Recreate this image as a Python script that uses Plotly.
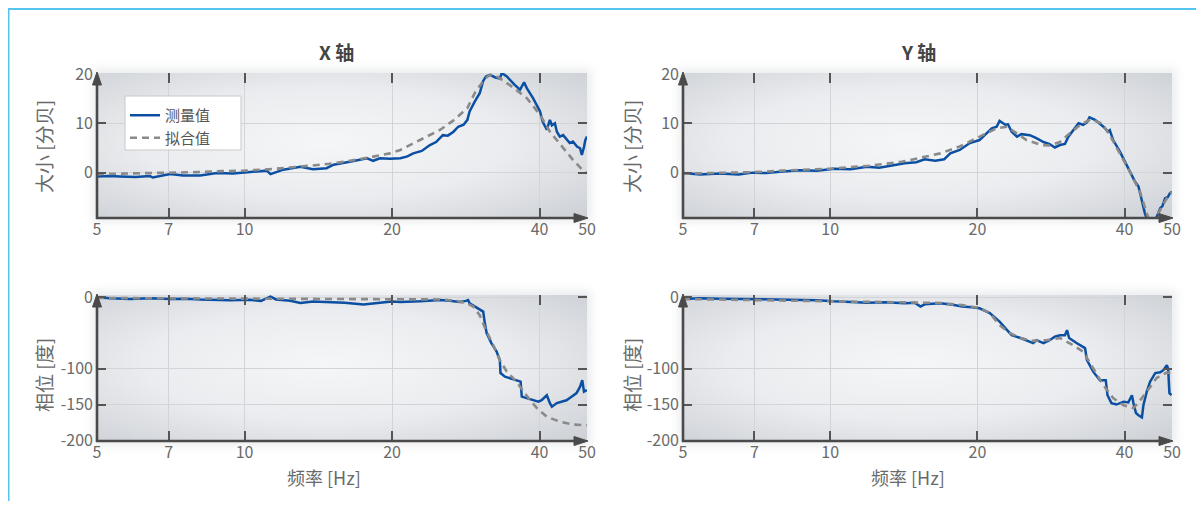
import base64
import math
import plotly.graph_objects as go

# ---------------- data ----------------
FREQ_TICKS = [5, 7, 10, 20, 40, 50]
FREQ_TICK_TEXT = ["5", "7", "10", "20", "40", "50"]
MAG_TICKS = [0, 10, 20]
MAG_TICK_TEXT = ["0", "10", "20"]
PHASE_TICKS = [-200, -150, -100, 0]
PHASE_TICK_TEXT = ["-200", "-150", "-100", "0"]

# X axis - magnitude, measured
x_mag_meas_f = [5.0, 5.3, 5.57, 6.0, 6.41, 6.5, 7.05, 7.49, 8.12, 8.79, 9.47, 10.26, 11.1, 11.3,
                12.0, 13.0, 13.8, 14.7, 15.2, 16.4, 17.8, 18.3, 18.9, 19.8, 20.8, 21.5, 22.1,
                23.0, 23.9, 24.6, 25.4, 26.0, 26.7, 27.3, 28.0, 28.5, 28.8, 29.5, 30.2, 30.7,
                31.1, 31.7, 32.5, 33.2, 33.5, 34.3, 35.0, 35.6, 36.5, 37.2, 37.7, 38.8, 40.1,
                40.6, 41.4, 42.0, 42.4, 43.0, 43.4, 44.0, 44.7, 45.5, 46.1, 46.8, 47.7, 48.4,
                48.8, 49.3, 49.6, 50.0]
x_mag_meas = [-0.8, -0.7, -0.8, -0.9, -0.7, -1.0, -0.3, -0.6, -0.6, -0.1, -0.2, 0.1, 0.4, -0.3,
              0.6, 1.2, 0.7, 0.9, 1.6, 2.2, 2.9, 2.4, 2.9, 2.8, 2.9, 3.3, 3.9,
              4.4, 5.6, 6.2, 7.6, 7.5, 8.3, 9.3, 9.7, 10.7, 12.4, 14.4, 16.1, 18.6,
              19.5, 19.8, 19.3, 19.1, 20.2, 19.5, 18.5, 17.8, 16.8, 18.3, 17.1, 15.1, 12.4,
              10.3, 8.7, 10.7, 9.6, 10.0, 8.3, 7.3, 7.6, 6.6, 6.0, 6.3, 5.3, 4.95,
              3.6, 5.2, 6.6, 7.3]
# X axis - magnitude, fit
x_mag_fit_f = [5, 6, 7, 8, 9, 10, 11.3, 12.4, 13.6, 14.9, 16, 18, 19.8, 20.8, 22.8, 25.1, 26.8,
               28.5, 29.6, 31.0, 31.7, 32.5, 33.2, 35.2, 37.7, 40.1, 42.0, 44.7, 46.8, 49.0, 50]
x_mag_fit = [-0.3, -0.2, -0.1, 0.1, 0.3, 0.4, 0.7, 1.0, 1.4, 1.8, 2.2, 3.1, 3.9, 4.6, 6.6, 8.7, 10.7,
             13.1, 16.4, 19.1, 19.8, 19.7, 19.1, 17.4, 15.1, 11.7, 8.3, 4.9, 2.6, 0.5, -0.1]

# Y axis - magnitude, measured
y_mag_meas_f = [5.0, 5.42, 5.95, 6.5, 6.94, 7.4, 7.89, 8.67, 9.4, 10.2, 11.0, 11.9, 12.6, 13.4,
                14.2, 15.0, 15.6, 16.4, 17.1, 17.6, 18.4, 19.3, 20.2, 20.7, 21.4, 21.9, 22.2,
                22.8, 23.1, 23.5, 24.1, 24.6, 25.6, 26.4, 27.3, 28.1, 28.8, 29.5, 30.2, 30.7,
                31.4, 32.2, 32.9, 33.5, 33.9, 34.8, 36.2, 37.0, 37.3, 37.9, 39.1, 40.4, 41.4,
                42.0, 42.7, 43.4, 44.0, 44.4, 45.2, 45.8, 46.4, 47.3, 47.8, 48.4, 49.0, 49.5, 50.0]
y_mag_meas = [-0.1, -0.4, -0.2, -0.4, 0.0, -0.1, 0.2, 0.5, 0.4, 0.8, 0.7, 1.2, 1.0, 1.5,
              1.9, 2.1, 2.7, 2.4, 2.7, 3.9, 4.6, 6.0, 6.6, 7.6, 9.0, 9.3, 10.5,
              9.7, 9.8, 8.3, 7.3, 7.8, 7.6, 7.0, 6.2, 5.8, 5.1, 5.6, 5.8, 7.3,
              8.7, 10.0, 9.7, 10.2, 11.2, 10.7, 9.3, 8.3, 8.6, 6.6, 4.3, 1.6, -0.5,
              -1.8, -2.8, -5.9, -8.2, -9.3, -12.5, -12.0, -9.3, -7.2, -6.8, -5.2, -5.0, -4.2, -3.9]
# Y axis - magnitude, fit
y_mag_fit_f = [5, 6, 7, 8, 9, 10, 12, 14, 15.6, 16.8, 18.4, 20.2, 21.9, 23.0, 24.1, 25.2, 27.0,
               28.1, 29.5, 30.9, 32.5, 34.1, 35.9, 37.3, 39.1, 41.0, 43.0, 44.7, 45.5, 46.2, 46.9,
               48.8, 50]
y_mag_fit = [-0.2, -0.1, 0.1, 0.4, 0.6, 0.8, 1.4, 2.2, 3.2, 3.9, 5.3, 7.3, 9.0, 9.3, 8.0, 6.6, 5.6,
             5.5, 6.2, 8.0, 9.7, 10.8, 10.0, 7.6, 3.9, 0.2, -3.9, -8.9, -11.5, -11.5, -8.2,
             -5.2, -3.9]

# X axis - phase, measured
x_ph_meas_f = [5.0, 5.32, 5.84, 6.41, 7.05, 7.6, 8.12, 9.34, 10.26, 10.8, 11.3, 11.6, 12.4, 13.0,
               13.8, 14.9, 16.0, 17.5, 18.2, 18.9, 20.0, 20.8, 22.8, 25.1, 26.2, 27.5, 28.3,
               28.6, 28.8, 29.5, 30.2, 30.7, 30.9, 31.2, 31.9, 32.7, 33.2, 33.3, 34.0, 34.8,
               35.9, 36.6, 36.8, 37.6, 38.9, 39.8, 40.4, 41.4, 42.0, 42.4, 43.4, 44.4, 45.4,
               46.5, 47.6, 48.4, 48.9, 49.3, 50.0]
x_ph_meas = [0, -1.5, -2.5, -1.5, -2.5, -2.0, -3, -4, -3.5, -5, 1, -3, -5, -8,
             -6, -7, -7.5, -10, -8.5, -7.5, -6, -6.6, -5.6, -3.8, -5, -6.6, -5,
             -3.8, -8.4, -13, -18, -20, -34, -50, -64, -76, -88, -106, -111, -113,
             -116, -118, -139, -141, -144, -146, -144, -137, -148, -153, -148, -146, -144,
             -139, -134, -125, -116, -132, -130]
# X axis - phase, fit
x_ph_fit_f = [5, 7, 10, 15, 20, 22.8, 25, 27, 28.4, 29.3, 30.2, 31.2, 32.2, 33.2, 34.3, 35.9,
              37.6, 39.5, 41.4, 44.0, 46.9, 50]
x_ph_fit = [-1, -1.5, -2, -2.5, -3, -2.6, -3, -5, -8.4, -13, -25, -48, -67, -88, -104, -118,
            -137, -155, -167, -174, -178, -179]

# Y axis - phase, measured
y_ph_meas_f = [5.0, 5.42, 5.95, 6.94, 7.89, 8.67, 9.4, 10.2, 11.0, 11.9, 13.0, 14.2, 14.9, 15.3,
               15.6, 16.8, 17.8, 18.6, 19.5, 20.2, 21.2, 22.2, 23.0, 23.5, 24.5, 25.2, 26.0,
               26.4, 27.3, 28.1, 28.8, 29.5, 30.2, 30.5, 30.8, 31.9, 33.2, 33.5, 34.5, 35.6,
               36.6, 36.9, 37.6, 38.5, 39.8, 40.7, 41.4, 41.7, 42.2, 42.7, 43.4, 43.7, 44.4,
               45.1, 46.2, 47.3, 48.0, 48.8, 49.1, 49.4, 49.9]
y_ph_meas = [-2.4, -1.4, -2.0, -2.8, -3.5, -4.5, -4.0, -5.6, -6.5, -7.5, -7.0, -8.4, -7.8, -13,
             -9.8, -8.4, -10.5, -13, -14, -15.4, -22, -34, -46, -53, -57, -60, -64,
             -60, -64, -60, -55, -53, -53, -46, -57, -64, -71, -88, -104, -116,
             -116, -137, -148, -150, -146, -147, -137, -148, -162, -165, -168, -151, -132,
             -118, -106, -105, -102, -95, -100, -134, -137]
# Y axis - phase, fit
y_ph_fit_f = [5, 7, 10, 14, 16.8, 18.6, 20.2, 21.2, 22.2, 23.3, 24.5, 26.0, 27.7, 29.5, 31.4,
              32.9, 34.5, 36.2, 37.9, 39.8, 41.7, 42.6, 44.4, 46.5, 48.8, 50]
y_ph_fit = [-2.4, -3.5, -5.6, -7.0, -8.0, -11, -15, -22, -39, -50, -57, -61, -60, -57, -67,
            -76, -99, -123, -141, -151, -155, -148, -132, -113, -105, -106]

for a, b in [(x_mag_meas_f, x_mag_meas), (x_mag_fit_f, x_mag_fit), (y_mag_meas_f, y_mag_meas),
             (y_mag_fit_f, y_mag_fit), (x_ph_meas_f, x_ph_meas), (x_ph_fit_f, x_ph_fit),
             (y_ph_meas_f, y_ph_meas), (y_ph_fit_f, y_ph_fit)]:
    assert len(a) == len(b), (len(a), len(b))

# ---------------- styling / layout ----------------
OFF = 8                      # page body margin in the browser
W, H = 1204 - 2 * OFF, 509 - 2 * OFF
BLUE = "#0b4fa3"
GRAY = "#8a8a8a"
AXC = "#4a4a4a"
TXT = "#6a6a6a"
FONT = "Noto Sans CJK SC, Open Sans, sans-serif"

# plot boxes in page pixels: (x0, x1, y0, y1)
boxes = {
    1: (97, 587, 73, 218),
    2: (683, 1172, 73, 218),
    3: (97, 587, 295, 441),
    4: (683, 1172, 295, 441),
}


def px(x):
    return (x - OFF) / W


def py(y):
    return 1 - (y - OFF) / H


def bg_uri(w, h, m):
    svg = f'''<svg xmlns="http://www.w3.org/2000/svg" width="{w + 2 * m}" height="{h + 2 * m}">
<defs>
<radialGradient id="g" cx="0.47" cy="0.48" r="0.75">
<stop offset="0" stop-color="#f5f6f7"/>
<stop offset="0.5" stop-color="#ebecef"/>
<stop offset="1" stop-color="#cbcfd4"/>
</radialGradient>
<filter id="s" x="-20%" y="-30%" width="140%" height="160%"><feGaussianBlur stdDeviation="5"/></filter>
</defs>
<rect x="{m - 4}" y="{m - 4}" width="{w + 8}" height="{h + 8}" fill="#b9bdc3" opacity="0.30" filter="url(#s)"/>
<rect x="{m}" y="{m}" width="{w}" height="{h}" fill="url(#g)"/>
</svg>'''
    return "data:image/svg+xml;base64," + base64.b64encode(svg.encode()).decode()


fig = go.Figure()

series = [
    (1, x_mag_meas_f, x_mag_meas, x_mag_fit_f, x_mag_fit),
    (2, y_mag_meas_f, y_mag_meas, y_mag_fit_f, y_mag_fit),
    (3, x_ph_meas_f, x_ph_meas, x_ph_fit_f, x_ph_fit),
    (4, y_ph_meas_f, y_ph_meas, y_ph_fit_f, y_ph_fit),
]
for k, mf, mv, ff, fv in series:
    xa = "x" if k == 1 else f"x{k}"
    ya = "y" if k == 1 else f"y{k}"
    fig.add_trace(go.Scatter(x=mf, y=mv, mode="lines", name="测量值", xaxis=xa, yaxis=ya,
                             line=dict(color=BLUE, width=2.5), showlegend=(k == 1),
                             legendrank=1))
    fig.add_trace(go.Scatter(x=ff, y=fv, mode="lines", name="拟合值", xaxis=xa, yaxis=ya,
                             line=dict(color=GRAY, width=2.6, dash="7px,5px"),
                             showlegend=(k == 1), legendrank=2))

layout = dict(
    width=W, height=H, autosize=False,
    margin=dict(l=0, r=0, t=0, b=0, pad=0, autoexpand=False),
    paper_bgcolor="white", plot_bgcolor="rgba(0,0,0,0)",
    font=dict(family=FONT, color=TXT, size=16),
    legend=dict(x=px(125), y=py(99), xanchor="left", yanchor="top",
                bgcolor="rgba(0,0,0,0)", borderwidth=0,
                font=dict(size=15, color="#555"), itemwidth=30, tracegroupgap=0),
)

shapes = []
images = []
for k, (x0, x1, y0, y1) in boxes.items():
    xname = "xaxis" if k == 1 else f"xaxis{k}"
    yname = "yaxis" if k == 1 else f"yaxis{k}"
    anchor_x = "y" if k == 1 else f"y{k}"
    anchor_y = "x" if k == 1 else f"x{k}"
    layout[xname] = dict(
        type="log", domain=[px(x0), px(x1)], anchor=anchor_x,
        range=[math.log10(5), math.log10(50)], automargin=False,
        tickvals=FREQ_TICKS, ticktext=FREQ_TICK_TEXT,
        showgrid=True, gridcolor="#d2d4d7", gridwidth=1,
        showline=False, zeroline=False, mirror="ticks",
        ticks="inside", ticklen=10, tickwidth=2, tickcolor="#555",
        tickfont=dict(size=16, color=TXT, family=FONT),
    )
    if k in (1, 2):
        yr, tv, tt = [-9.2, 20.2], MAG_TICKS, MAG_TICK_TEXT
    else:
        yr, tv, tt = [-201, 3.2], PHASE_TICKS, PHASE_TICK_TEXT
    layout[yname] = dict(
        domain=[py(y1), py(y0)], anchor=anchor_y, range=yr, automargin=False,
        tickvals=tv, ticktext=tt,
        showgrid=True, gridcolor="#d2d4d7", gridwidth=1,
        showline=False, zeroline=False, mirror="ticks",
        ticks="inside", ticklen=9, tickwidth=2, tickcolor="#555",
        tickfont=dict(size=16, color=TXT, family=FONT), ticklabelstandoff=3,
    )
    # background gradient + soft shadow
    m = 14
    images.append(dict(source=bg_uri(x1 - x0, y1 - y0, m), xref="paper", yref="paper",
                       x=px(x0 - m), y=py(y0 - m), sizex=(x1 - x0 + 2 * m) / W,
                       sizey=(y1 - y0 + 2 * m) / H, xanchor="left", yanchor="top",
                       sizing="stretch", layer="below"))
    # axis lines with arrow heads
    shapes.append(dict(type="line", xref="paper", yref="paper", x0=px(x0), x1=px(x0),
                       y0=py(y1 + 1), y1=py(y0 + 8), line=dict(color=AXC, width=2.6)))
    shapes.append(dict(type="line", xref="paper", yref="paper", x0=px(x0 - 1), x1=px(x1 - 8),
                       y0=py(y1), y1=py(y1), line=dict(color=AXC, width=2.6)))
    up = (f"M {px(x0)},{py(y0 - 1)} L {px(x0 - 4.5)},{py(y0 + 12)} "
          f"L {px(x0 + 4.5)},{py(y0 + 12)} Z")
    right = (f"M {px(x1 + 1)},{py(y1)} L {px(x1 - 13)},{py(y1 - 4.5)} "
             f"L {px(x1 - 13)},{py(y1 + 4.5)} Z")
    for p in (up, right):
        shapes.append(dict(type="path", xref="paper", yref="paper", path=p,
                           fillcolor=AXC, line=dict(color=AXC, width=1)))

# legend box (drawn above the traces, below the legend text)
shapes.append(dict(type="rect", xref="paper", yref="paper", x0=px(125), x1=px(241),
                   y0=py(150), y1=py(96), fillcolor="white",
                   line=dict(color="#c9c9c9", width=1), layer="above"))

# outer light-blue frame lines (top and left)
shapes.append(dict(type="line", xref="paper", yref="paper", x0=0, x1=1, y0=py(9), y1=py(9),
                   line=dict(color="#55c4ee", width=2), layer="above"))
shapes.append(dict(type="line", xref="paper", yref="paper", x0=px(8.5), x1=px(8.5), y0=0,
                   y1=py(9), line=dict(color="#55c4ee", width=2), layer="above"))

annotations = [
    dict(text="<b>X 轴</b>", x=px(336), y=py(52), xref="paper", yref="paper", showarrow=False,
         font=dict(size=19, color="#444", family=FONT), xanchor="center", yanchor="middle"),
    dict(text="<b>Y 轴</b>", x=px(918), y=py(52), xref="paper", yref="paper", showarrow=False,
         font=dict(size=19, color="#444", family=FONT), xanchor="center", yanchor="middle"),
    dict(text="大小 [分贝]", x=px(43), y=py(147), xref="paper", yref="paper", showarrow=False,
         textangle=-90, font=dict(size=19, color=TXT, family=FONT), xanchor="center", yanchor="middle"),
    dict(text="大小 [分贝]", x=px(631), y=py(147), xref="paper", yref="paper", showarrow=False,
         textangle=-90, font=dict(size=19, color=TXT, family=FONT), xanchor="center", yanchor="middle"),
    dict(text="相位 [度]", x=px(43), y=py(375), xref="paper", yref="paper", showarrow=False,
         textangle=-90, font=dict(size=19, color=TXT, family=FONT), xanchor="center", yanchor="middle"),
    dict(text="相位 [度]", x=px(631), y=py(375), xref="paper", yref="paper", showarrow=False,
         textangle=-90, font=dict(size=19, color=TXT, family=FONT), xanchor="center", yanchor="middle"),
    dict(text="频率 [Hz]", x=px(324), y=py(477), xref="paper", yref="paper", showarrow=False,
         font=dict(size=18, color=TXT, family=FONT), xanchor="center", yanchor="middle"),
    dict(text="频率 [Hz]", x=px(908), y=py(477), xref="paper", yref="paper", showarrow=False,
         font=dict(size=18, color=TXT, family=FONT), xanchor="center", yanchor="middle"),
]

layout["shapes"] = shapes
layout["images"] = images
layout["annotations"] = annotations
fig.update_layout(**layout)

fig.write_html("out.html")
